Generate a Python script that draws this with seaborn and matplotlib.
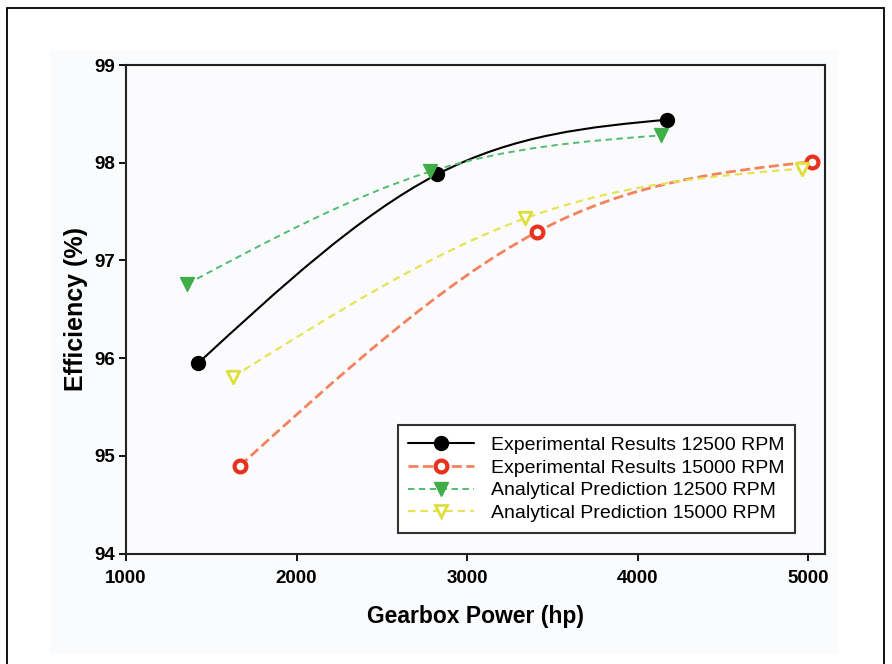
import numpy as np
import matplotlib
matplotlib.use("Agg")
import matplotlib.pyplot as plt
import seaborn as sns
import pandas as pd
from matplotlib.path import Path
from matplotlib.patches import PathPatch, Rectangle
from matplotlib.lines import Line2D

# values
exp_12500_hp = [1424, 2824, 4171]
exp_12500_eff = [95.95, 97.88, 98.44]
exp_15000_hp = [1669, 3409, 5022]
exp_15000_eff = [94.90, 97.29, 98.01]
ana_12500_hp = [1360, 2785, 4138]
ana_12500_eff = [96.76, 97.91, 98.28]
ana_15000_hp = [1629, 3340, 4963]
ana_15000_eff = [95.81, 97.43, 97.94]

series_labels = [
    "Experimental Results 12500 RPM",
    "Experimental Results 15000 RPM",
    "Analytical Prediction 12500 RPM",
    "Analytical Prediction 15000 RPM",
]
x_ticks = [1000, 2000, 3000, 4000, 5000]
y_ticks = [94, 95, 96, 97, 98, 99]

sns.set_style("ticks")
plt.rcParams["font.family"] = ["Liberation Sans", "DejaVu Sans"]
plt.rcParams["text.color"] = "black"
plt.rcParams["axes.labelcolor"] = "black"

rows = []
for lab, xs, ys in zip(series_labels,
                       [exp_12500_hp, exp_15000_hp, ana_12500_hp, ana_15000_hp],
                       [exp_12500_eff, exp_15000_eff, ana_12500_eff, ana_15000_eff]):
    for x, y in zip(xs, ys):
        rows.append({"series": lab, "hp": x, "eff": y})
df = pd.DataFrame(rows)

# style per series: line colour, line style, width, marker, face, edge, size
styles = {
    series_labels[0]: dict(lc="black", ls="-", lw=1.5, m="o", fc="black", ec="black", ms=10, mew=1.0),
    series_labels[1]: dict(lc="#f3825f", ls=(0, (3.6, 1.6)), lw=2.0, m="o", fc="white", ec="#e8321e", ms=8.5, mew=3.0),
    series_labels[2]: dict(lc="#52bd6e", ls=(0, (3.3, 2.3)), lw=1.4, m="v", fc="#3fae49", ec="#3fae49", ms=10, mew=1.0),
    series_labels[3]: dict(lc="#e4e455", ls=(0, (3.3, 2.3)), lw=1.6, m="v", fc="white", ec="#dede3c", ms=9, mew=2.0),
}


def smooth_path(xs, ys):
    # cubic bezier through the points (spline-like rendering of the line)
    p = np.column_stack([xs, ys]).astype(float)
    n = len(p)
    t = np.zeros_like(p)
    for i in range(1, n - 1):
        t[i] = (p[i + 1] - p[i - 1]) / 2
    t[0] = 1.5 * (p[1] - p[0]) - 0.5 * t[1]
    t[-1] = 1.5 * (p[-1] - p[-2]) - 0.5 * t[-2]
    verts = [p[0]]
    codes = [Path.MOVETO]
    for i in range(n - 1):
        verts += [p[i] + t[i] / 3, p[i + 1] - t[i + 1] / 3, p[i + 1]]
        codes += [Path.CURVE4] * 3
    return Path(verts, codes)


fig = plt.figure(figsize=(8.92, 6.64), dpi=100)
fig.patches.append(Rectangle((0.057, 0.015), 0.882, 0.91, transform=fig.transFigure,
                             facecolor="#fafbfc", edgecolor="none", zorder=-1))
fig.patches.append(Rectangle((0.008, -0.01), 0.983, 0.998, transform=fig.transFigure,
                             fill=False, edgecolor="black", linewidth=1.3, zorder=5))
ax = fig.add_axes([0.1413, 0.1664, 0.7837, 0.7357])
ax.set_facecolor("#fbfbfd")

for lab in series_labels:
    s = styles[lab]
    d = df[df["series"] == lab]
    ax.add_patch(PathPatch(smooth_path(d["hp"], d["eff"]), fill=False, edgecolor=s["lc"],
                           linestyle=s["ls"], linewidth=s["lw"], zorder=2))
    sns.scatterplot(data=d, x="hp", y="eff", marker=s["m"], s=s["ms"] ** 2,
                    color=s["fc"], edgecolor=s["ec"], linewidth=s["mew"], ax=ax,
                    zorder=3, legend=False)

ax.set_xlim(1000, 5100)
ax.set_ylim(94, 99)
ax.set_xticks(x_ticks)
ax.set_xticklabels([str(v) for v in x_ticks], fontweight="bold", fontsize=13.5)
ax.set_yticks(y_ticks)
ax.set_yticklabels([str(v) for v in y_ticks], fontweight="bold", fontsize=13.5)
ax.tick_params(direction="out", length=5, width=1.3, colors="black")
ax.tick_params(axis="x", pad=7)
ax.tick_params(axis="y", pad=3)
for sp in ax.spines.values():
    sp.set_visible(True)
    sp.set_linewidth(1.5)
    sp.set_color("#222222")

ax.set_xlabel("Gearbox Power (hp)", fontsize=16.5, fontweight="bold", labelpad=13)
ax.set_ylabel("Efficiency (%)", fontsize=18, fontweight="bold", labelpad=4)

handles = []
for lab in series_labels:
    s = styles[lab]
    handles.append(Line2D([], [], color=s["lc"], linestyle=s["ls"], linewidth=s["lw"],
                          marker=s["m"], markerfacecolor=s["fc"], markeredgecolor=s["ec"],
                          markersize=s["ms"], markeredgewidth=s["mew"]))
leg = ax.legend(handles, series_labels, loc="lower right", bbox_to_anchor=(0.957, 0.042),
                borderaxespad=0, fontsize=14, frameon=True, fancybox=False,
                edgecolor="#333333", framealpha=1, labelspacing=0.27, handlelength=3.4,
                handletextpad=0.85, borderpad=0.55)
leg.get_frame().set_linewidth(1.5)

fig.savefig("out.png", dpi=100)
